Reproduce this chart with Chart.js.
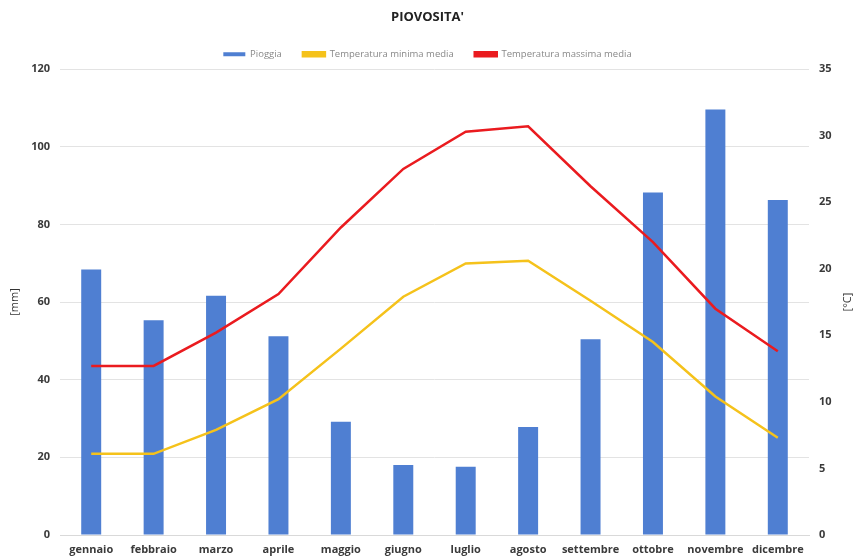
<!DOCTYPE html>
<html>
<head>
<meta charset="utf-8">
<script src="https://cdn.jsdelivr.net/npm/chart.js@4"></script>
<style>
  html, body { margin: 0; padding: 0; background: #fff; }
  #wrap { width: 855px; height: 559px; }
</style>
</head>
<body>
<div id="wrap"><canvas id="myChart1" width="855" height="559"></canvas></div>
<script>
// data ====================================================
const mesi = ["gennaio", "febbraio", "marzo", "aprile", "maggio", "giugno",
  "luglio", "agosto", "settembre", "ottobre", "novembre", "dicembre"];
const pioggia = [68.4, 55.3, 61.6, 51.2, 29.2, 18.0, 17.6, 27.8, 50.4, 88.2, 109.6, 86.3];
const tempMin = [6.1, 6.1, 7.9, 10.2, 14.0, 17.9, 20.4, 20.6, 17.6, 14.5, 10.4, 7.3];
const tempMax = [12.7, 12.7, 15.2, 18.1, 23.1, 27.5, 30.3, 30.7, 26.2, 22.0, 17.0, 13.8];

const FONT = "'Open Sans', 'DejaVu Sans', sans-serif";

const data = {
  labels: mesi,
  datasets: [
    {
      type: "bar",
      label: "Pioggia",
      data: pioggia,
      backgroundColor: "#4f7fd2",
      borderWidth: 0,
      categoryPercentage: 1,
      barPercentage: 0.32,
      yAxisID: "y",
      order: 2,
    },
    {
      type: "line",
      label: "Temperatura minima media",
      data: tempMin,
      borderColor: "#f5c21b",
      backgroundColor: "#f5c21b",
      borderWidth: 2.5,
      pointRadius: 0,
      tension: 0,
      yAxisID: "y1",
      order: 1,
    },
    {
      type: "line",
      label: "Temperatura massima media",
      data: tempMax,
      borderColor: "#ea1b1f",
      backgroundColor: "#ea1b1f",
      borderWidth: 2.5,
      pointRadius: 0,
      tension: 0,
      yAxisID: "y1",
      order: 0,
    },
  ],
};

const tickFont = { family: FONT, size: 11, weight: "bold" };

// right axis title, read bottom to top like the left one
const rightTitle = {
  id: "rightTitle",
  afterDraw(chart) {
    const ctx = chart.ctx;
    const a = chart.chartArea;
    ctx.save();
    ctx.translate(848, (a.top + a.bottom) / 2);
    ctx.rotate(-Math.PI / 2);
    ctx.font = "11px " + FONT;
    ctx.fillStyle = "#333";
    ctx.textAlign = "center";
    ctx.textBaseline = "middle";
    ctx.fillText("[°C]", 0, 0);
    ctx.restore();
  },
};

const config = {
  type: "bar",
  data: data,
  plugins: [rightTitle],
  options: {
    responsive: false,
    animation: false,
    plugins: {
      title: {
        display: true,
        text: "PIOVOSITA'",
        color: "#222",
        font: { family: FONT, size: 13, weight: "bold" },
        padding: { top: 9, bottom: 4 },
      },
      legend: {
        position: "top",
        labels: {
          boxWidth: 22,
          boxHeight: 4,
          padding: 21,
          color: "#888",
          font: { family: FONT, size: 9.5 },
          sort: (a, b) => a.datasetIndex - b.datasetIndex,
        },
      },
      tooltip: { enabled: false },
    },
    scales: {
      x: {
        grid: { display: false, drawTicks: false },
        border: { display: true, color: "#d9d9d9" },
        ticks: { color: "#3a3a3a", font: tickFont, padding: 8, maxRotation: 0, autoSkip: false },
        afterFit: (s) => { s.height = 24; },
      },
      y: {
        position: "left",
        min: 0,
        max: 120,
        grid: { color: "#e3e3e3", drawTicks: false },
        border: { display: false },
        ticks: { stepSize: 20, color: "#3a3a3a", font: tickFont, padding: 10 },
        title: { display: true, text: "[mm]", color: "#333", font: { family: FONT, size: 11 }, padding: { top: 8, bottom: 0 } },
        afterFit: (s) => { s.width = 60; },
      },
      y1: {
        position: "right",
        min: 0,
        max: 35,
        grid: { display: false, drawTicks: false },
        border: { display: false },
        ticks: { stepSize: 5, color: "#3a3a3a", font: tickFont, padding: 10 },
        afterFit: (s) => { s.width = 46; },
      },
    },
  },
};

const myChart = new Chart(document.getElementById("myChart1"), config);
</script>
</body>
</html>
